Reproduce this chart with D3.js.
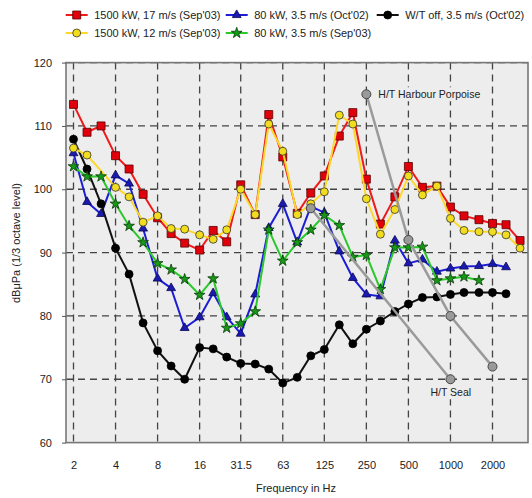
<!DOCTYPE html>
<html>
<head>
<meta charset="utf-8">
<script src="https://cdn.jsdelivr.net/npm/d3@7"></script>
<style>
  body { margin: 0; background: #fff; }
  text { font-family: "Liberation Sans", Arial, sans-serif; fill: #222; }
</style>
</head>
<body>
<svg id="chart" width="532" height="498"></svg>
<script>
(function() {

  // 1/3 octave band centre frequencies (Hz).
  var freqs = [2, 2.5, 3.15, 4, 5, 6.3, 8, 10, 12.5, 16, 20, 25, 31.5, 40, 50, 63, 80, 100,
               125, 160, 200, 250, 315, 400, 500, 630, 800, 1000, 1250, 1600, 2000, 2500, 3150];

  // Octave tick labels.
  var xticks = ["2", "4", "8", "16", "31.5", "63", "125", "250", "500", "1000", "2000"];
  var yticks = [60, 70, 80, 90, 100, 110, 120];

  // Series values (dB re 1 uPa, 1/3 octave level).
  var red = [113.4, 109.0, 110.0, 105.3, 103.2, 99.2, 95.5, 93.0, 91.5, 90.4, 93.5, 91.7, 100.7, 96.0, 111.8, 105.1, 96.2,
             99.4, 102.1, 108.4, 112.1, 101.6, 94.5, 98.8, 103.6, 100.3, 100.5, 97.2, 95.8, 95.2, 94.6, 94.4, 91.9];
  var yellow = [106.5, 105.4, null, 100.3, 98.8, 94.8, 95.8, 93.8, 93.7, 92.8, 92.1, 93.6, 100.0, 96.0, 110.3, 106.0, 96.0,
                97.7, 99.6, 111.7, 110.3, 98.5, 92.9, 96.8, 102.1, 99.1, 100.5, 95.4, 93.5, 93.3, 93.3, 92.8, 90.7];
  var blue = [105.7, 98.0, 96.1, 102.2, 100.9, 93.8, 85.9, 84.4, 78.1, 79.8, 83.6, 79.8, 77.2, 83.4, 93.9, 97.7, 91.6,
              97.3, 96.3, 90.2, 86.0, 83.4, 83.1, 91.9, 88.3, 88.9, 87.0, 87.5, 87.8, 87.9, 88.2, 87.7, null];
  var green = [103.6, 102.0, 102.0, 97.7, 94.2, 91.6, 88.3, 87.3, 85.8, 83.3, 85.9, 78.1, 78.8, 80.7, 93.6, 88.7, 91.6,
               93.6, 95.9, 94.3, 89.3, 89.6, 84.2, 90.8, 90.8, 90.9, 85.6, 85.9, 86.2, 85.6, null, null, null];
  var black = [107.9, 103.2, 97.7, 90.7, 86.6, 78.9, 74.5, 72.1, 70.0, 75.0, 74.8, 73.5, 72.5, 72.4, 71.6, 69.4, 70.3,
               73.7, 74.7, 78.6, 75.6, 77.9, 79.2, 80.7, 81.9, 82.9, 83.0, 83.4, 83.7, 83.7, 83.7, 83.5, null];

  // Hearing thresholds.
  var porpoiseFreqs = [250, 500, 1000, 2000];
  var porpoise = [115, 92, 80, 72];
  var sealFreqs = [100, 1000];
  var seal = [97, 70];

  // Series definitions in drawing order.
  var series = [
    { name: "1500 kW, 17 m/s (Sep'03)", values: red, line: "#f01a1a", fill: "#e0000b", stroke: "#5a0000", symbol: d3.symbolSquare, size: 64, col: 0, row: 0 },
    { name: "80 kW, 3.5 m/s (Oct'02)", values: blue, line: "#1d1dd6", fill: "#1a1ab0", stroke: "#0a0a50", symbol: d3.symbolTriangle, size: 34, col: 1, row: 0 },
    { name: "W/T off, 3.5 m/s (Oct'02)", values: black, line: "#111", fill: "#000", stroke: "#000", symbol: d3.symbolCircle, size: 50, col: 2, row: 0 },
    { name: "1500 kW, 12 m/s (Sep'03)", values: yellow, line: "#fcd82a", fill: "#f2dc1e", stroke: "#333", symbol: d3.symbolCircle, size: 50, col: 0, row: 1 },
    { name: "80 kW, 3.5 m/s (Sep'03)", values: green, line: "#2ac82a", fill: "#169a16", stroke: "#0b3a0b", symbol: d3.symbolStar, size: 36, col: 1, row: 1 }
  ];

  // Plot frame.
  var left = 66, right = 528, top = 62.6, bottom = 442.6;
  var plotfill = "#ededed";

  var svg = d3.select("#chart");

  // Log frequency scale: 2 Hz and 2000 Hz pinned, then stretched to the frame.
  var base = d3.scaleLog().domain([2, 2000]).range([73.5, 492.5]);
  var x = d3.scaleLog().domain([base.invert(left), base.invert(right)]).range([left, right]);
  var y = d3.scaleLinear().domain([60, 120]).range([bottom, top]);

  // Plot background.
  svg.append("rect")
    .attr("x", left).attr("y", top)
    .attr("width", right - left).attr("height", bottom - top)
    .attr("fill", plotfill);

  // Vertical grid.
  svg.selectAll(".vgrid")
    .data(xticks)
    .enter()
    .append("line")
    .attr("class", "vgrid")
    .attr("x1", function(d) { return x(+d); })
    .attr("x2", function(d) { return x(+d); })
    .attr("y1", top).attr("y2", bottom)
    .attr("stroke", "#444").attr("stroke-width", 1.3)
    .attr("stroke-dasharray", "7,5");

  // Horizontal grid.
  svg.selectAll(".hgrid")
    .data(yticks.slice(1))
    .enter()
    .append("line")
    .attr("class", "hgrid")
    .attr("x1", left).attr("x2", right)
    .attr("y1", function(d) { return y(d); })
    .attr("y2", function(d) { return y(d); })
    .attr("stroke", "#444").attr("stroke-width", 1.3)
    .attr("stroke-dasharray", "7,5");

  // Frame.
  svg.append("rect")
    .attr("x", left).attr("y", top)
    .attr("width", right - left).attr("height", bottom - top)
    .attr("fill", "none")
    .attr("stroke", "#777").attr("stroke-width", 1.6);

  // Y axis.
  var yaxis = svg.append("g")
    .attr("transform", "translate(" + left + ",0)")
    .call(d3.axisLeft(y).tickValues(yticks).tickSize(4).tickPadding(10));
  yaxis.select(".domain").remove();
  yaxis.selectAll("line").attr("stroke", "#555");
  yaxis.selectAll("text")
    .attr("font-size", 11).attr("font-family", "Liberation Sans, Arial, sans-serif")
    .attr("fill", "#333");

  // X axis labels.
  var xaxis = svg.append("g")
    .attr("transform", "translate(0," + bottom + ")")
    .call(d3.axisBottom(x).tickValues(xticks.map(Number)).tickSize(0).tickPadding(19)
      .tickFormat(function(d, i) { return xticks[i]; }));
  xaxis.select(".domain").remove();
  xaxis.selectAll("text")
    .attr("font-size", 11).attr("font-family", "Liberation Sans, Arial, sans-serif")
    .attr("fill", "#333");

  // Axis titles.
  svg.append("text")
    .attr("x", 296).attr("y", 492)
    .attr("text-anchor", "middle")
    .attr("font-size", 11)
    .text("Frequency in Hz");

  svg.append("text")
    .attr("transform", "translate(20,243) rotate(-90)")
    .attr("text-anchor", "middle")
    .attr("font-size", 11)
    .text("dB\u03bcPa  (1/3 octave level)");

  // Threshold labels sit on a plot-coloured box that hides the grid.
  function label(tx, ty, str) {
    var g = svg.append("g");
    var t = g.append("text")
      .attr("x", tx).attr("y", ty)
      .attr("font-size", 10.5)
      .attr("fill", "#1c2448")
      .text(str);
    var bb = t.node().getBBox();
    g.insert("rect", "text")
      .attr("x", bb.x - 2).attr("y", bb.y - 1)
      .attr("width", bb.width + 4).attr("height", bb.height + 2)
      .attr("fill", plotfill);
  }
  label(x(porpoiseFreqs[0]) + 12, y(porpoise[0]) + 4, "H/T Harbour Porpoise");
  label(x(sealFreqs[1]) - 20, y(seal[1]) + 17, "H/T Seal");

  // Line generator.
  var line = d3.line()
    .x(function(d) { return x(d[0]); })
    .y(function(d) { return y(d[1]); });

  function pairs(fs, vs) {
    return fs.map(function(f, i) { return [f, vs[i]]; })
             .filter(function(d) { return d[1] != null; });
  }

  // Draw measured series.
  for (var s of series) {
    var pts = pairs(freqs, s.values);
    svg.append("path")
      .datum(pts)
      .attr("d", line)
      .attr("fill", "none")
      .attr("stroke", s.line)
      .attr("stroke-width", 2);

    svg.append("g").selectAll("path")
      .data(pts)
      .enter()
      .append("path")
      .attr("transform", function(d) { return "translate(" + x(d[0]) + "," + y(d[1]) + ")"; })
      .attr("d", d3.symbol().type(s.symbol).size(s.size))
      .attr("fill", s.fill)
      .attr("stroke", s.stroke)
      .attr("stroke-width", 0.8);
  }

  // Hearing threshold lines.
  var thresholds = [pairs(porpoiseFreqs, porpoise), pairs(sealFreqs, seal)];
  for (var t of thresholds) {
    svg.append("path")
      .datum(t)
      .attr("d", line)
      .attr("fill", "none")
      .attr("stroke", "#9a9a9a")
      .attr("stroke-width", 2.5);

    svg.append("g").selectAll("circle")
      .data(t)
      .enter()
      .append("circle")
      .attr("cx", function(d) { return x(d[0]); })
      .attr("cy", function(d) { return y(d[1]); })
      .attr("r", 4.5)
      .attr("fill", "#9a9a9a")
      .attr("stroke", "#444")
      .attr("stroke-width", 1);
  }

  // Legend.
  var legx = [76.7, 236.7, 387.7];
  var legy = [15, 33];
  var leg = svg.selectAll(".legend")
    .data(series)
    .enter()
    .append("g")
    .attr("class", "legend")
    .attr("transform", function(d) { return "translate(" + legx[d.col] + "," + legy[d.row] + ")"; });

  leg.append("line")
    .attr("x1", -11).attr("x2", 11)
    .attr("stroke", function(d) { return d.line; })
    .attr("stroke-width", 2);

  leg.append("path")
    .attr("d", function(d) { return d3.symbol().type(d.symbol).size(d.size)(); })
    .attr("fill", function(d) { return d.fill; })
    .attr("stroke", function(d) { return d.stroke; })
    .attr("stroke-width", 0.8);

  leg.append("text")
    .attr("x", 17.5).attr("dy", "0.35em")
    .attr("font-size", 11)
    .text(function(d) { return d.name; });

})();
</script>
</body>
</html>
